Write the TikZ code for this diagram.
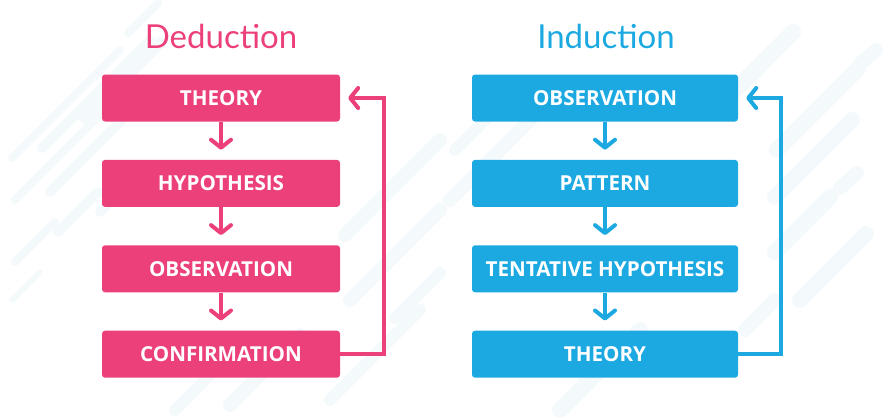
\documentclass[tikz,border=0pt]{standalone}
\usepackage{fontspec}
\setmainfont{Open Sans}
\newfontfamily\titlefont{Lato}
\usetikzlibrary{positioning,arrows.meta}
\definecolor{dedpink}{HTML}{EC407A}
\definecolor{indblue}{HTML}{1CA9E1}
\definecolor{streakgray}{HTML}{F4F9FC}
\tikzset{
	stage/.style={rounded corners=3pt, minimum width=238pt, minimum height=47pt, inner sep=0pt, text=white, font=\fontsize{20.6}{23}\selectfont\bfseries},
	widestage/.style={stage, minimum width=266pt},
	flow/.style={line width=4pt, -{Straight Barb[length=8pt,width=20pt,round]}},
	heading/.style={anchor=base, font=\titlefont\fontsize{33}{36}\selectfont},
	streak/.style={streakgray, line cap=round}
}
\begin{document}
\begin{tikzpicture}[x=1pt,y=-1pt]
			\useasboundingbox (0,0) rectangle (886,416);
			% background streaks
			\draw [streak, line width=8pt] (12,158) -- (120,50);
			\draw [streak, line width=10pt] (42,148) -- (150,40);
			\draw [streak, line width=12pt] (85,118) -- (160,43);
			\draw [streak, line width=8pt] (128,33) -- (158,3);
			\draw [streak, line width=8pt] (15,200) -- (100,115);
			\draw [streak, line width=10pt] (50,192) -- (140,102);
			\draw [streak, line width=10pt] (58,232) -- (98,192);
			\draw [streak, line width=8pt] (15,262) -- (55,222);
			\draw [streak, line width=6pt] (12,300) -- (40,272);
			\draw [streak, line width=10pt] (100,212) -- (130,182);
			\draw [streak, line width=14pt] (230,405) -- (300,335);
			\draw [streak, line width=12pt] (175,410) -- (230,355);
			\draw [streak, line width=14pt] (350,300) -- (440,210);
			\draw [streak, line width=12pt] (395,318) -- (440,273);
			\draw [streak, line width=14pt] (345,235) -- (440,140);
			\draw [streak, line width=12pt] (330,400) -- (420,310);
			\draw [streak, line width=14pt] (450,200) -- (540,110);
			\draw [streak, line width=12pt] (455,150) -- (500,105);
			\draw [streak, line width=16pt] (560,410) -- (640,330);
			\draw [streak, line width=16pt] (720,105) -- (793,32);
			\draw [streak, line width=16pt] (742,84) -- (773,52);
			\draw [streak, line width=16pt] (777,150) -- (858,69);
			\draw [streak, line width=16pt] (775,197) -- (852,120);
			\draw [streak, line width=14pt] (860,64) -- (876,50);
			\draw [streak, line width=14pt] (840,188) -- (857,173);
			\draw [streak, line width=16pt] (775,252) -- (830,197);
			\draw [streak, line width=16pt] (800,300) -- (866,234);
			\draw [streak, line width=14pt] (745,330) -- (775,300);
			% titles
			\node [heading, text=dedpink] (ded) at (221,48) {Deduction};
			\node [heading, text=indblue] (ind) at (606,48) {Induction};
			% deduction column
			\node [stage, fill=dedpink] (dth) at (221,98) {THEORY};
			\node [stage, fill=dedpink, below=38pt of dth] (dhy) {HYPOTHESIS};
			\node [stage, fill=dedpink, below=38pt of dhy] (dob) {OBSERVATION};
			\node [stage, fill=dedpink, below=38pt of dob] (dcf) {CONFIRMATION};
			\draw [flow, dedpink] (dth.south) -- ([yshift=10pt]dhy.north);
			\draw [flow, dedpink] (dhy.south) -- ([yshift=10pt]dob.north);
			\draw [flow, dedpink] (dob.south) -- ([yshift=10pt]dcf.north);
			\draw [flow, dedpink] (dcf.east) -- ++(44,0) |- ([xshift=8pt]dth.east);
			% induction column
			\node [widestage, fill=indblue] (iob) at (605,98) {OBSERVATION};
			\node [widestage, fill=indblue, below=38pt of iob] (ipa) {PATTERN};
			\node [widestage, fill=indblue, below=38pt of ipa] (ith) {TENTATIVE HYPOTHESIS};
			\node [widestage, fill=indblue, below=38pt of ith] (ity) {THEORY};
			\draw [flow, indblue] (iob.south) -- ([yshift=10pt]ipa.north);
			\draw [flow, indblue] (ipa.south) -- ([yshift=10pt]ith.north);
			\draw [flow, indblue] (ith.south) -- ([yshift=10pt]ity.north);
			\draw [flow, indblue] (ity.east) -- ++(43,0) |- ([xshift=8pt]iob.east);
		\end{tikzpicture}
\end{document}
